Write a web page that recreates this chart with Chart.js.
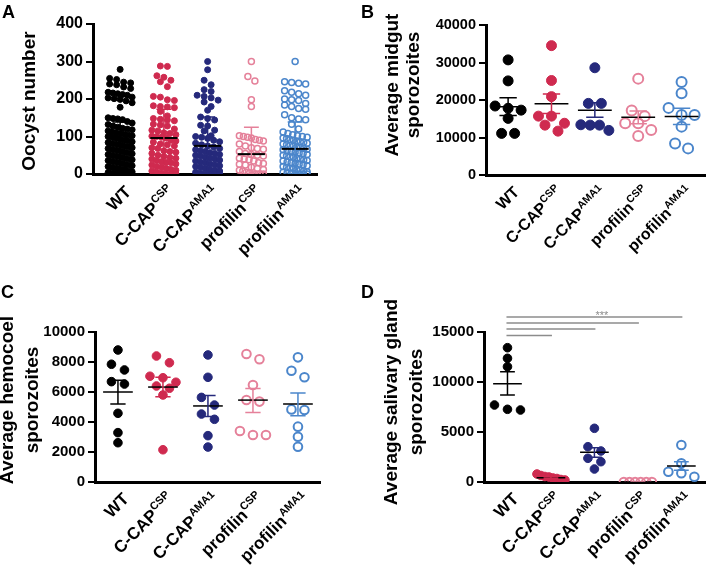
<!DOCTYPE html>
<html>
<head>
<meta charset="utf-8">
<script src="https://cdn.jsdelivr.net/npm/chart.js@4.4.1/dist/chart.umd.min.js"></script>
<style>
  body { margin: 0; background: #fff; }
  #wrap { position: relative; width: 712px; height: 571px; overflow: hidden; background: #fff; }
  canvas { position: absolute; }
  .panel-letter { position: absolute; font: bold 18px 'Liberation Sans', Arial, sans-serif; line-height: 18px; color: #000; }
</style>
</head>
<body>
<div id="wrap">
  <canvas id="chartA" width="356" height="270" style="left:0;top:0"></canvas>
  <canvas id="chartB" width="356" height="270" style="left:356px;top:0"></canvas>
  <canvas id="chartC" width="356" height="301" style="left:0;top:270px"></canvas>
  <canvas id="chartD" width="356" height="301" style="left:356px;top:270px"></canvas>
  <div class="panel-letter" style="left:2px;top:3px">A</div>
  <div class="panel-letter" style="left:361px;top:3px">B</div>
  <div class="panel-letter" style="left:1px;top:283px">C</div>
  <div class="panel-letter" style="left:361px;top:283px">D</div>
</div>
<script>
const FONT = "'Liberation Sans', Arial, Helvetica, sans-serif";

// groups (x categories)
const groupNames = ['WT', 'C-CAP', 'C-CAP', 'profilin', 'profilin'];
const groupSups = ['', 'CSP', 'AMA1', 'CSP', 'AMA1'];
const groupColors = ['#000000', '#cf2a4f', '#25297b', '#e5819a', '#4b86cb'];
const groupOpen = [false, false, false, true, true];

// A - oocyst number per midgut
const oocystWT = [279, 255, 252, 245, 243, 240, 238, 232, 228, 218, 216, 214, 212, 210, 205, 203, 201, 199, 195, 190, 178,
  150, 148, 147, 145, 140, 136, 132,
  128, 125, 122, 120, 118, 115, 113, 110, 108, 106, 104, 102, 100, 99, 97, 95, 93, 91, 90, 88, 86, 84, 82, 80, 78, 76,
  74, 72, 70, 68, 66, 64, 62, 60, 58, 56, 54, 52, 50, 48, 46, 44, 42, 40, 38, 36, 34, 32, 30, 28, 26, 24, 22, 20, 18,
  16, 14, 12, 10, 8, 6, 4, 2, 1, 0, 0, 0, 0, 0];
const oocystCapCSP = [288, 287, 262, 258, 250, 246, 233, 207, 205, 198, 196, 182, 180, 179, 177, 167, 155, 148, 146, 144,
  142, 133, 131, 128, 120, 117, 115, 110, 108, 105, 101, 100, 98, 96, 90, 88, 85, 80, 78, 75, 70, 68, 62, 60, 58, 55, 50,
  47, 44, 42, 40, 36, 33, 31, 30, 27, 24, 20, 18, 15, 12, 10, 8, 5, 3, 0, 0, 0];
const oocystCapAMA1 = [300, 278, 250, 238, 225, 220, 210, 207, 203, 197, 192, 180, 170, 152, 148, 144, 130, 128, 117, 115,
  102, 100, 98, 95, 90, 86, 82, 78, 75, 72, 68, 65, 62, 60, 57, 55, 52, 50, 48, 45, 42, 40, 37, 35, 32, 30, 27, 25, 22,
  20, 18, 15, 12, 10, 8, 5, 3, 0, 0, 0, 0];
const oocystProfCSP = [300, 260, 248, 198, 180, 102, 100, 98, 96, 92, 90, 88, 80, 75, 70, 68, 66, 60, 55, 52, 50, 48, 42,
  40, 38, 35, 30, 28, 26, 24, 18, 15, 12, 10, 8, 5, 3, 0, 0, 0, 0];
const oocystProfAMA1 = [300, 246, 244, 242, 240, 222, 218, 214, 210, 200, 198, 196, 188, 184, 180, 175, 173, 158, 150, 147,
  145, 133, 120, 112, 108, 105, 102, 100, 98, 96, 95, 92, 90, 88, 86, 85, 82, 80, 78, 76, 75, 72, 70, 68, 66, 65, 62, 60,
  58, 56, 55, 52, 50, 48, 46, 45, 42, 40, 38, 36, 35, 32, 30, 28, 26, 25, 22, 20, 18, 16, 15, 12, 10, 8, 6, 5, 3, 2, 0, 0, 0, 0];
const oocystMean = [78, 96, 75, 53, 67];
const oocystHi = [139, 173, 152, 125, 139];
const oocystLo = [17, 19, 0, 0, 0];

// B - average midgut sporozoites
const midgutWT = [30700, 25100, 18400, 17800, 17300, 15100, 11100, 11100];
const midgutCapCSP = [34500, 25200, 20900, 15700, 15700, 13800, 13300, 11700];
const midgutCapAMA1 = [28600, 19100, 19100, 13400, 13300, 13300, 11900];
const midgutProfCSP = [25700, 17200, 15700, 13800, 13800, 12000, 10400];
const midgutProfAMA1 = [24800, 21800, 17900, 16000, 16000, 12900, 8400, 7100];
const midgutMean = [18200, 19000, 17300, 15400, 15600];
const midgutHi = [20600, 21600, 19300, 17100, 17800];
const midgutLo = [15900, 16400, 15400, 13700, 13500];

// C - average hemocoel sporozoites
const hemoWT = [8800, 7850, 7470, 6690, 6530, 4580, 3290, 2620];
const hemoCapCSP = [8400, 7950, 7050, 6950, 6650, 6400, 6250, 5800, 2150];
const hemoCapAMA1 = [8470, 6980, 5640, 5130, 4530, 4180, 3090, 2330];
const hemoProfCSP = [8530, 8180, 6470, 5470, 5360, 3400, 3130, 3130];
const hemoProfAMA1 = [8310, 7420, 6980, 4840, 4800, 3690, 3020, 2350];
const hemoMean = [6000, 6330, 5070, 5460, 5200];
const hemoHi = [6780, 6980, 5760, 6240, 5930];
const hemoLo = [5200, 5690, 4370, 4640, 4420];

// D - average salivary gland sporozoites
const sgWT = [13430, 12370, 11530, 7700, 7270, 7200];
const sgCapCSP = [800, 650, 550, 500, 400, 350, 250, 200];
const sgCapAMA1 = [5370, 3530, 3100, 2370, 2030, 1300];
const sgProfCSP = [0, 0, 0, 0, 0, 0];
const sgProfAMA1 = [3700, 1870, 1030, 870, 530];
const sgMean = [9830, 430, 2970, 0, 1600];
const sgHi = [11030, 520, 3430, 0, 2030];
const sgLo = [8700, 340, 2470, 0, 1170];
// comparisons WT vs each group, *** (bar heights in data units)
const sgCompareTo = [2, 3, 4, 5];
const sgCompareLevel = [14650, 15300, 15900, 16500];
const sgCompareText = '***';

const xLabelPlugin = {
  id: 'xLabels',
  afterDraw(chart, args, o) {
    const { ctx, scales: { x, y } } = chart;
    const base = y.getPixelForValue(0);
    groupNames.forEach((name, i) => {
      ctx.save();
      ctx.translate(x.getPixelForValue(i + 1) + o.dx, base + o.dy);
      ctx.rotate(-Math.PI / 4);
      ctx.fillStyle = '#000';
      ctx.textAlign = 'right';
      ctx.textBaseline = 'alphabetic';
      let end = 0;
      if (groupSups[i]) {
        ctx.font = 'bold ' + o.sup + 'px ' + FONT;
        ctx.fillText(groupSups[i], 0, -o.raise);
        end = -ctx.measureText(groupSups[i]).width - 0.5;
      }
      ctx.font = 'bold ' + o.size + 'px ' + FONT;
      ctx.fillText(name, end, 0);
      ctx.restore();
    });
  }
};

// vertical axis title, drawn without Chart.js squeezing long lines
const yTitlePlugin = {
  id: 'yTitle',
  afterDraw(chart, args, o) {
    const ctx = chart.ctx;
    ctx.save();
    ctx.fillStyle = '#000';
    ctx.font = 'bold ' + o.size + 'px ' + FONT;
    ctx.textAlign = 'center';
    ctx.textBaseline = 'middle';
    o.lines.forEach((t, k) => {
      ctx.save();
      ctx.translate(o.x[k], o.y);
      ctx.rotate(-Math.PI / 2);
      ctx.fillText(t, 0, 0);
      ctx.restore();
    });
    ctx.restore();
  }
};

const sigPlugin = {
  id: 'sigBars',
  afterDatasetsDraw(chart, args, o) {
    if (!o.show) return;
    const { ctx, scales: { x, y } } = chart;
    ctx.save();
    ctx.strokeStyle = '#8c8c8c';
    ctx.lineWidth = 1.5;
    sgCompareTo.forEach((g, k) => {
      const py = y.getPixelForValue(sgCompareLevel[k]);
      ctx.beginPath();
      ctx.moveTo(x.getPixelForValue(1) - 1, py);
      ctx.lineTo(x.getPixelForValue(g) + 1, py);
      ctx.stroke();
    });
    const top = sgCompareLevel[sgCompareLevel.length - 1];
    ctx.fillStyle = '#8c8c8c';
    ctx.font = '11px ' + FONT;
    ctx.textAlign = 'center';
    ctx.textBaseline = 'alphabetic';
    ctx.fillText(sgCompareText, x.getPixelForValue(o.textAt), y.getPixelForValue(top) + 2);
    ctx.restore();
  }
};

function makeChart(p) {
  const datasets = [];
  p.values.forEach((vals, i) => {
    const c = i + 1;
    datasets.push({
      data: [
        { x: c - p.capW, y: p.hi[i] }, { x: c + p.capW, y: p.hi[i] }, { x: c, y: null },
        { x: c, y: p.hi[i] }, { x: c, y: p.lo[i] }, { x: c, y: null },
        { x: c - p.capW, y: p.lo[i] }, { x: c + p.capW, y: p.lo[i] }
      ],
      showLine: true, spanGaps: false, pointRadius: 0,
      borderColor: groupColors[i], borderWidth: p.errW
    });
    datasets.push({
      data: [{ x: c - p.meanW, y: p.mean[i] }, { x: c + p.meanW, y: p.mean[i] }],
      showLine: true, pointRadius: 0, borderColor: '#000', borderWidth: p.meanLW
    });
  });
  const first = datasets.length;
  p.values.forEach((vals, i) => {
    datasets.push({
      data: vals.map(v => ({ x: i + 1, y: v })),
      pointRadius: p.r,
      pointBackgroundColor: groupOpen[i] ? 'rgba(255,255,255,0)' : groupColors[i],
      pointBorderColor: groupColors[i],
      pointBorderWidth: groupOpen[i] ? p.openBW : 1
    });
  });

  const chart = new Chart(document.getElementById(p.id), {
    type: 'scatter',
    data: { datasets },
    options: {
      responsive: false,
      animation: false,
      events: [],
      layout: { padding: { left: 0, top: p.top, right: p.w - p.right, bottom: 0 } },
      plugins: {
        legend: { display: false },
        tooltip: { enabled: false },
        xLabels: p.xl,
        yTitle: p.yt,
        sigBars: { show: !!p.sig, textAt: 3.17 }
      },
      scales: {
        x: {
          type: 'linear', min: p.xMin, max: p.xMax,
          afterFit(s) { s.height = p.h - p.bottom; },
          ticks: { display: false },
          grid: { display: false },
          border: { display: true, width: 3, color: '#000' }
        },
        y: {
          min: 0, max: p.yMax,
          afterFit(s) { s.width = p.left; },
          ticks: {
            stepSize: p.yStep, color: '#000', padding: 3,
            font: { family: FONT, size: p.tick, weight: 'bold' },
            callback: v => String(v)
          },
          grid: { drawOnChartArea: false, drawTicks: true, tickLength: 7, lineWidth: 2, color: '#000' },
          border: { display: true, width: 3, color: '#000' }
        }
      }
    },
    plugins: [xLabelPlugin, yTitlePlugin, sigPlugin]
  });

  // lay the dots out side by side in rows (scatter dot plot), using the chart's scales
  const xs = chart.scales.x, ys = chart.scales.y;
  const unit = xs.getPixelForValue(2) - xs.getPixelForValue(1);
  const diam = 2 * p.r + 1;
  p.values.forEach((vals, i) => {
    const order = vals.map((v, k) => k).sort((a, b) => vals[b] - vals[a]);
    const pts = new Array(vals.length);
    let row = [], rowTop = null;
    const flush = () => {
      const n = row.length;
      const gap = n > 1 ? Math.min(p.spacing, 2 * p.maxHalf / (n - 1)) : 0;
      row.forEach((k, j) => { pts[k] = { x: i + 1 + ((j - (n - 1) / 2) * gap) / unit, y: vals[k] }; });
      row = [];
    };
    order.forEach(k => {
      const py = ys.getPixelForValue(vals[k]);
      if (rowTop !== null && py - rowTop > diam * 0.8) { flush(); rowTop = null; }
      if (rowTop === null) rowTop = py;
      row.push(k);
    });
    flush();
    chart.data.datasets[first + i].data = pts;
  });
  chart.update('none');
  return chart;
}

makeChart({
  id: 'chartA', w: 356, h: 270, left: 93, right: 317, top: 24, bottom: 174,
  xMin: 0.38, xMax: 5.5, yMax: 400, yStep: 100, tick: 16,
  yt: { lines: ['Oocyst number'], size: 19, x: [30], y: 101 },
  values: [oocystWT, oocystCapCSP, oocystCapAMA1, oocystProfCSP, oocystProfAMA1],
  mean: oocystMean, hi: oocystHi, lo: oocystLo,
  r: 3, openBW: 1.5, spacing: 7, maxHalf: 12, capW: 0.17, meanW: 0.31, errW: 1.5, meanLW: 2,
  xl: { size: 17, sup: 11, raise: 7, dx: 12, dy: 19 }
});

makeChart({
  id: 'chartB', w: 356, h: 270, left: 130, right: 356, top: 25, bottom: 175,
  xMin: 0.49, xMax: 5.54, yMax: 40000, yStep: 10000, tick: 14.5,
  yt: { lines: ['Average midgut', 'sporozoites'], size: 19, x: [37, 57.5], y: 85 },
  values: [midgutWT, midgutCapCSP, midgutCapAMA1, midgutProfCSP, midgutProfAMA1],
  mean: midgutMean, hi: midgutHi, lo: midgutLo,
  r: 5, openBW: 2, spacing: 13, maxHalf: 14, capW: 0.2, meanW: 0.39, errW: 1.5, meanLW: 1.5,
  xl: { size: 16, sup: 10.5, raise: 6.5, dx: 12, dy: 18 }
});

makeChart({
  id: 'chartC', w: 356, h: 301, left: 95, right: 320, top: 62, bottom: 212,
  xMin: 0.49, xMax: 5.49, yMax: 10000, yStep: 2000, tick: 15,
  yt: { lines: ['Average hemocoel', 'sporozoites'], size: 19, x: [8, 32.5], y: 130 },
  values: [hemoWT, hemoCapCSP, hemoCapAMA1, hemoProfCSP, hemoProfAMA1],
  mean: hemoMean, hi: hemoHi, lo: hemoLo,
  r: 4.3, openBW: 2, spacing: 13, maxHalf: 14, capW: 0.17, meanW: 0.33, errW: 1.5, meanLW: 1.5,
  xl: { size: 17, sup: 11, raise: 7, dx: 12, dy: 18 }
});

makeChart({
  id: 'chartD', w: 356, h: 301, left: 128, right: 356, top: 62, bottom: 212,
  xMin: 0.46, xMax: 5.56, yMax: 15000, yStep: 5000, tick: 15,
  yt: { lines: ['Average salivary gland', 'sporozoites'], size: 19, x: [36, 61], y: 132 },
  values: [sgWT, sgCapCSP, sgCapAMA1, sgProfCSP, sgProfAMA1],
  mean: sgMean, hi: sgHi, lo: sgLo,
  r: 4.3, openBW: 2, spacing: 13, maxHalf: 14, capW: 0.17, meanW: 0.33, errW: 1.5, meanLW: 1.5,
  xl: { size: 17, sup: 11, raise: 7, dx: 12, dy: 18 },
  sig: true
});
</script>
</body>
</html>
